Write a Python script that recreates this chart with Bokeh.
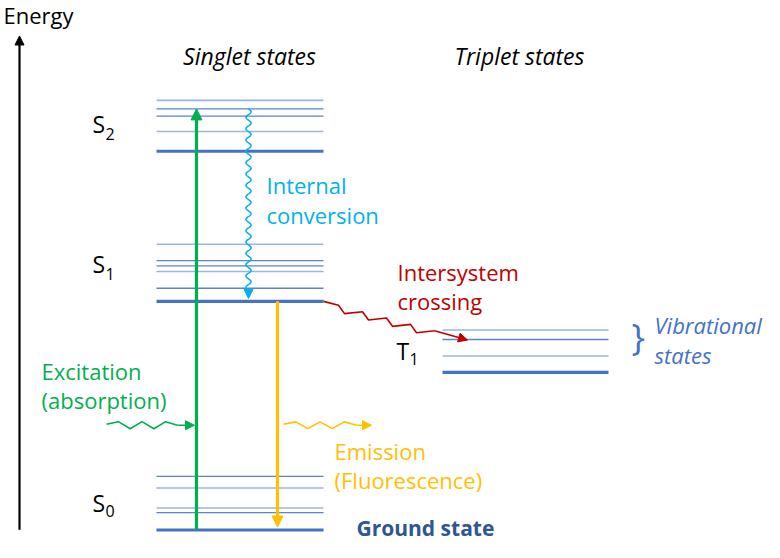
import numpy as np
from bokeh.plotting import figure
from bokeh.models import Range1d, Arrow, NormalHead
from bokeh.core.properties import value
from bokeh.embed import file_html
from bokeh.resources import INLINE

# ---------------- data (energy in arbitrary units, up = higher) ----------------
S0_levels = [14.7, 32.3, 37.0, 57.3, 69.0]
S1_levels = [246.7, 260.0, 277.0, 282.7, 288.0, 304.7]
S2_levels = [399.0, 419.0, 434.7, 442.0, 450.7]
T1_levels = [174.7, 191.3, 208.0, 217.7]

S0_kind = ["ground", "mid", "light", "light", "mid"]
S1_kind = ["ground", "mid", "light", "mid", "mid", "light"]
S2_kind = ["ground", "light", "mid", "mid", "light"]
T1_kind = ["ground", "light", "mid", "light"]

state_names = ["S", "S", "S", "T"]
state_subs = ["0", "1", "2", "1"]

FONT = value("Open Sans")
W, H = 764, 542
DX = 9


def Y(page_y):
    return 558 - page_y


p = figure(width=W, height=H, output_backend="svg", toolbar_location=None,
           x_range=Range1d(DX, DX + W), y_range=Range1d(Y(556), Y(6)),
           min_border=0, outline_line_color=None, background_fill_color="white",
           border_fill_color="white")
p.xaxis.visible = False
p.yaxis.visible = False
p.grid.visible = False

style = {"ground": ("#4472C4", 3.2), "mid": ("#5B84CC", 1.3), "light": ("#9DB5E0", 1.6)}


def draw_levels(levels, kinds, x0, x1):
    for lv, k in zip(levels, kinds):
        c, w = style[k]
        p.segment(x0=[x0], y0=[lv], x1=[x1], y1=[lv], line_color=c, line_width=w)


SX0, SX1 = 165, 332
TX0, TX1 = 451, 617
draw_levels(S0_levels, S0_kind, SX0, SX1)
draw_levels(S1_levels, S1_kind, SX0, SX1)
draw_levels(S2_levels, S2_kind, SX0, SX1)
draw_levels(T1_levels, T1_kind, TX0, TX1)

# ---------------- energy axis ----------------
p.add_layout(Arrow(end=NormalHead(size=9, fill_color="black", line_color="black"),
                   x_start=28, y_start=Y(543), x_end=28, y_end=Y(42),
                   line_color="black", line_width=2.2))

# ---------------- vertical transitions ----------------
GREEN, ORANGE, CYAN, RED = "#00B050", "#FFC000", "#00B0F0", "#C00000"
p.add_layout(Arrow(end=NormalHead(size=11, fill_color=GREEN, line_color=GREEN),
                   x_start=205, y_start=S0_levels[0], x_end=205, y_end=S2_levels[3],
                   line_color=GREEN, line_width=3.2))
p.add_layout(Arrow(end=NormalHead(size=11, fill_color=ORANGE, line_color=ORANGE),
                   x_start=286, y_start=S1_levels[0], x_end=286, y_end=S0_levels[0] + 3,
                   line_color=ORANGE, line_width=3.2))


# ---------------- wavy transitions (decorative shapes) ----------------
def zigzag_h(x0, y, x1, nhalf, amp, tail):
    usable = (x1 - x0) - tail
    h = usable / (nhalf + 1)
    xs = [x0]
    ys = [y + 1]
    for k in range(1, nhalf + 1):
        xs.append(x0 + k * h)
        ys.append(y + (amp if k % 2 else -amp))
    xs.append(x0 + usable)
    ys.append(y)
    return xs, ys


gx, gy = zigzag_h(115, Y(437), 202, 5, 3.6, 16)
p.line(gx, gy, line_color=GREEN, line_width=1.6)
p.add_layout(Arrow(end=NormalHead(size=9, fill_color=GREEN, line_color=GREEN),
                   x_start=gx[-1], y_start=gy[-1], x_end=203, y_end=gy[-1],
                   line_color=GREEN, line_width=1.6))

ox, oy = zigzag_h(292, Y(437), 380, 5, 3.4, 15)
p.line(ox, oy, line_color=ORANGE, line_width=1.6)
p.add_layout(Arrow(end=NormalHead(size=9, fill_color=ORANGE, line_color=ORANGE),
                   x_start=ox[-1], y_start=oy[-1], x_end=380, y_end=oy[-1],
                   line_color=ORANGE, line_width=1.6))

# internal conversion: vertical squiggle
ic_x, ic_top, ic_bot = 257, S2_levels[3], S1_levels[0] + 3
s = np.linspace(0, (ic_top - ic_bot) - 10, 400)
ic_ys = ic_top - s
ic_xs = ic_x + 2.6 * np.sin(2 * np.pi * s / 11.5)
p.line(ic_xs, ic_ys, line_color=CYAN, line_width=1.5)
p.add_layout(Arrow(end=NormalHead(size=9, fill_color=CYAN, line_color=CYAN),
                   x_start=ic_x, y_start=ic_ys[-1], x_end=ic_x, y_end=ic_bot,
                   line_color=CYAN, line_width=1.5))


# intersystem crossing: sawtooth descending path
def saw_path(x0, y0, x1, y1, period, amp, rise, lead, tail):
    slope = (y1 - y0) / (x1 - x0)

    def base(x):
        return y0 - amp + slope * (x - x0)

    xs = [x0]
    ys = [y0]
    t = x0 + lead
    while t + period <= x1 - tail:
        xs.append(t)
        ys.append(base(t) + amp)
        b = t + (1 - rise) * period
        xs.append(b)
        ys.append(base(b) - amp)
        t += period
    xs.append(t)
    ys.append(base(t) + amp)
    return xs, ys


rx, ry = saw_path(332, S1_levels[0], 476, T1_levels[2], 24, 3.4, 0.75, 15, 10)
p.line(rx, ry, line_color=RED, line_width=1.6)
p.add_layout(Arrow(end=NormalHead(size=9, fill_color=RED, line_color=RED),
                   x_start=rx[-1], y_start=ry[-1], x_end=476, y_end=T1_levels[2] - 0.5,
                   line_color=RED, line_width=1.6))


# ---------------- texts ----------------
def txt(s, x, y, color="black", size="22px", style="normal", align="left"):
    p.text(x=[x], y=[Y(y)], text=[s], text_color=color, text_font=FONT,
           text_font_size=size, text_font_style=style, text_align=align,
           text_baseline="middle")


txt("Energy", 12, 21, size="22px")
txt("Singlet states", 258, 62, style="italic", size="23px", align="center")
txt("Triplet states", 528, 62, style="italic", size="23px", align="center")

name_pos = [(101, 516, 524), (101, 273, 284), (101, 131, 141), (405, 362, 370)]
for nm, sb, (x, ys_, ysub) in zip(state_names, state_subs, name_pos):
    txt(nm, x, ys_, size="23px")
    txt(sb, x + 13, ysub, size="16px")

txt("Internal", 275, 193, color=CYAN)
txt("conversion", 275, 224, color=CYAN)
txt("Intersystem", 406, 281, color=RED)
txt("crossing", 406, 311, color=RED)
txt("Vibrational", 663, 335, color="#4472C4", style="italic")
txt("states", 663, 366, color="#4472C4", style="italic")
txt("}", 640, 347, color="#4472C4", size="36px")
txt("Excitation", 50, 382, color=GREEN)
txt("(absorption)", 50, 411, color=GREEN)
txt("Emission", 343, 463, color=ORANGE)
txt("(Fluorescence)", 343, 493, color=ORANGE)
txt("Ground state", 365, 541, color="#2F5597", style="bold", size="21px")

open("out.html", "w").write(file_html(p, INLINE))
